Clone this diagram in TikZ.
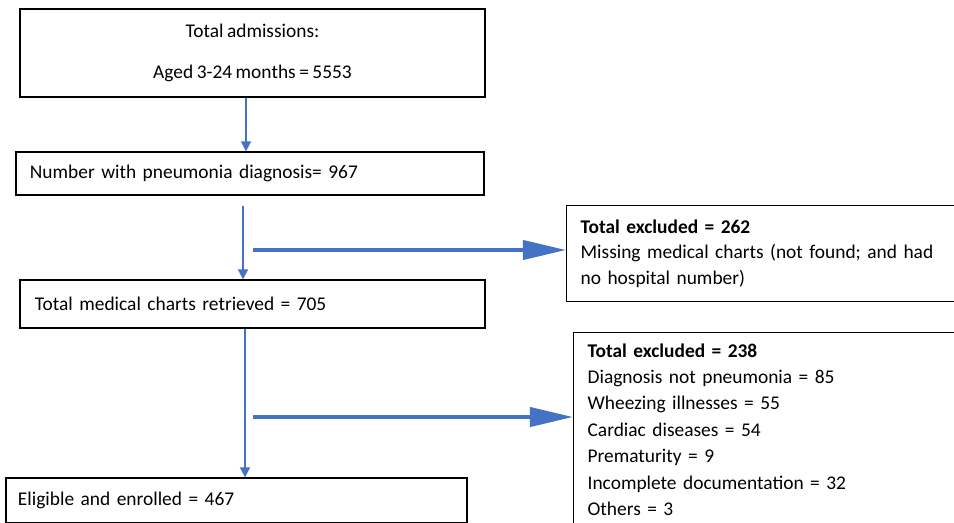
\documentclass[tikz,border=0pt]{standalone}
\usepackage{fontspec}
\setmainfont{Carlito}[WordSpace=0.8]
\usepackage{tikz}
\usetikzlibrary{arrows.meta, positioning, calc}
\definecolor{flowblue}{HTML}{4472C4}

\begin{document}
\begin{tikzpicture}[
  x=0.025cm, y=-0.025cm,
  box/.style={draw, line width=0.9pt, inner ysep=0pt, font=\fontsize{13.8}{18}\selectfont},
  thinarrow/.style={-{Triangle[length=0.25cm, width=0.25cm]}, flowblue, line width=1.1pt},
  thickarrow/.style={-{Triangle[length=1.075cm, width=0.475cm]}, flowblue, line width=2.8pt}
]
  \useasboundingbox (0,0) rectangle (954,522);

  % --- main column ---
  \node[box, minimum width=11.625cm, minimum height=2.2cm, align=center] (adm) at (252.5,53)
    {Total admissions:\\[0.4cm]Aged 3-24 months = 5553};
  \node[box, text width=11cm, inner xsep=0.35cm, minimum height=1.075cm, align=left] (pneu) at (250,173.5)
    {Number with pneumonia diagnosis= 967};
  \node[box, text width=10.875cm, inner xsep=0.375cm, minimum height=1.2cm, align=left] (charts) at (252.5,304)
    {Total medical charts retrieved = 705};
  \node[box, text width=10.925cm, inner xsep=0.3cm, minimum height=1.125cm, align=left] (enrol) at (236.5,500.5)
    {Eligible and enrolled = 467};

  % --- exclusion boxes ---
  \node[box, text width=9.3cm, inner xsep=0.35cm, minimum height=2.4cm, align=left, anchor=north west] (exa) at (566,205)
    {\textbf{Total excluded = 262}\\Missing medical charts (not found; and had\\no hospital number)\\[-0.2cm]};
  \node[box, text width=9.3cm, inner xsep=0.35cm, minimum height=4.85cm, align=left, anchor=north west,
    font=\fontsize{13.8}{18.8}\selectfont] (exb) at (573,332)
    {\textbf{Total excluded = 238}\\Diagnosis not pneumonia = 85\\Wheezing illnesses = 55\\Cardiac diseases = 54\\
     Prematurity = 9\\Incomplete documentation = 32\\Others = 3};

  % --- connectors ---
  \coordinate (splita) at (243,206);
  \coordinate (brancha) at (253,250);
  \coordinate (branchb) at (253,417);
  \draw[thinarrow] (adm.south -| 246,0) -- (pneu.north -| 246,0);
  \draw[thinarrow] (splita) -- (splita |- charts.north);
  \draw[thinarrow] (charts.south -| 245,0) -- (enrol.north -| 245,0);
  \draw[thickarrow] (brancha) -- (brancha -| exa.west);
  \draw[thickarrow] (branchb) -- (branchb -| exb.west);
\end{tikzpicture}
\end{document}
